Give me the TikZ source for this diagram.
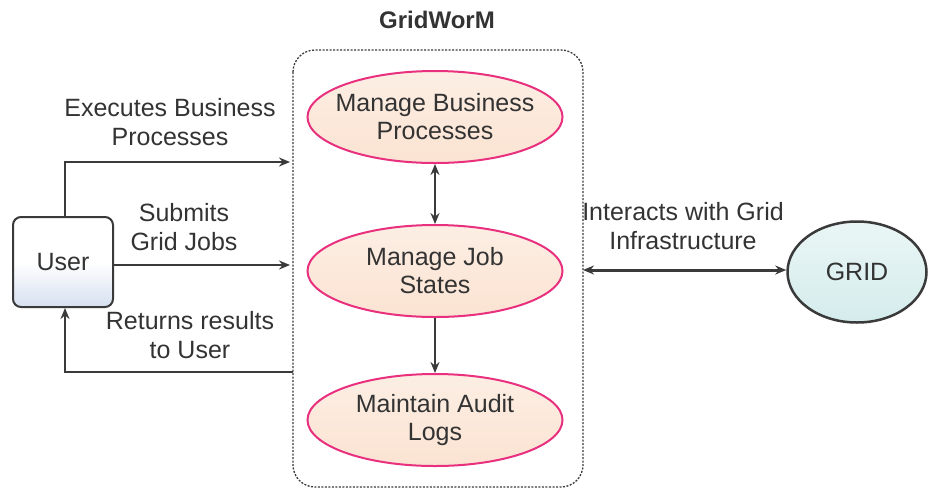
\documentclass[tikz,border=0pt]{standalone}
\usepackage{fontspec}
\setmainfont{Liberation Sans}
\usetikzlibrary{shapes.geometric,arrows.meta}
\definecolor{txt}{HTML}{333333}
\definecolor{ln}{HTML}{3A3A3A}
\definecolor{pinkb}{HTML}{E8307E}
\definecolor{peach}{HTML}{FBE3D2}
\definecolor{ublue}{HTML}{D6E0F0}
\definecolor{gcyan}{HTML}{D5ECEC}
\tikzset{
  proc/.style={ellipse, draw=pinkb, line width=2pt, top color=peach!60, bottom color=peach, minimum width=255pt, minimum height=92pt, inner xsep=-30pt, inner ysep=0pt, align=center, text=txt, font=\fontsize{25}{28}\selectfont},
  lbl/.style={align=center, text=txt, font=\fontsize{25}{29}\selectfont},
  conn/.style={draw=ln, line width=2.6pt, -{Stealth[length=11pt,width=9pt]}},
  biconn/.style={draw=ln, line width=2.6pt, {Stealth[length=11pt,width=9pt]}-{Stealth[length=11pt,width=9pt]}},
}
\begin{document}
\begin{tikzpicture}[x=1pt,y=-1pt]
\useasboundingbox (0,0) rectangle (929,491);
% container
\draw[ln, line width=1.3pt, dash pattern=on 2pt off 1.5pt, rounded corners=22pt] (293,50) rectangle (583,487);
\node[font=\fontsize{24}{26}\selectfont\bfseries, text=txt] (title) at (437,20) {GridWorM};
\coordinate (cL) at (293,270);
\coordinate (cR) at (583,270);
% processes
\node[proc] (mbp) at (435,117) {Manage Business\\Processes};
\node[proc] (mjs) at (435,271) {Manage Job\\States};
\node[proc] (mal) at (435,420) {Maintain Audit\\Logs};
\draw[biconn] (mbp) -- (mjs);
\draw[conn] (mjs) -- (mal);
% user
\node[draw=ln, line width=2pt, rounded corners=8pt, minimum width=100pt, minimum height=90pt, top color=white, bottom color=ublue, middle color=white, text=txt, font=\fontsize{25}{28}\selectfont] (user) at (63,262) {User};
\coordinate (exT) at (290,162);
\coordinate (subT) at (290,265);
\coordinate (retS) at (293,372);
\draw[conn] (user.north -| 65,0) |- (exT);
\draw[conn] (user.east |- subT) -- (subT);
\draw[conn] (retS) -| (user.south -| 65,0);
\node[lbl] (lex) at (170,122) {Executes Business\\Processes};
\node[lbl] (lsub) at (184,227) {Submits\\Grid Jobs};
\node[lbl] (lret) at (190,335) {Returns results\\to User};
% grid
\node[ellipse, draw=ln, line width=2.5pt, top color=gcyan!50, bottom color=gcyan, minimum width=139pt, minimum height=101pt, text=txt, font=\fontsize{25}{28}\selectfont] (grid) at (857,272) {GRID};
\draw[biconn, line width=3pt] (cR) -- (grid.west |- cR);
\node[lbl] (lint) at (683,226) {Interacts with Grid\\Infrastructure};
\end{tikzpicture}
\end{document}
